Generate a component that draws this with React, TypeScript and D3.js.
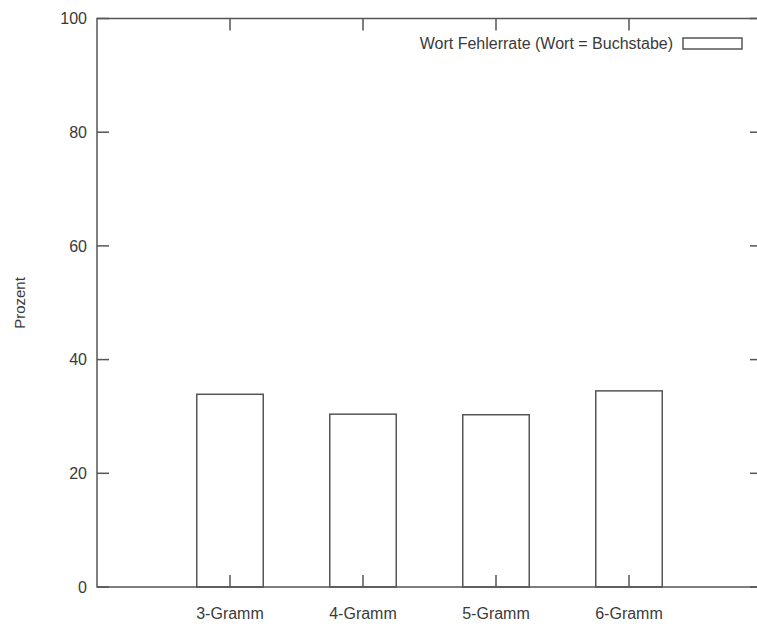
import * as d3 from "d3";

const categories = ["3-Gramm", "4-Gramm", "5-Gramm", "6-Gramm"];
const values = [33.9, 30.4, 30.3, 34.5];
const yTicks = [0, 20, 40, 60, 80, 100];
const seriesName = "Wort Fehlerrate (Wort = Buchstabe)";

export default function App() {
  const width = 757;
  const height = 626;
  const left = 97;
  const top = 18.5;
  const bottom = 587;
  const right = 762; // frame runs a bit past the window edge

  const x = d3.scaleLinear().domain([0, 5]).range([left, right]);
  const y = d3.scaleLinear().domain([0, 100]).range([bottom, top]);
  const barHalf = 0.5 * (x(1) - x(0)) / 2 * 1.0;

  const ink = "#555";
  const textInk = "#3a3a3a";
  const font = "'Liberation Sans', Arial, sans-serif";
  const tickLen = 12;

  return (
    <svg
      width={width}
      height={height}
      style={{ position: "absolute", left: 0, top: 0, background: "#fff" }}
      fontFamily={font}
      fontSize={16}
    >
      <rect width={width} height={height} fill="#fff" />
      {/* bars */}
      <g fill="none" stroke={ink} strokeWidth={1.5}>
        {values.map((v, i) => (
          <rect
            key={i}
            x={x(i + 1) - barHalf}
            y={y(v)}
            width={barHalf * 2}
            height={y(0) - y(v)}
          />
        ))}
      </g>
      {/* frame */}
      <rect
        x={left}
        y={top}
        width={right - left}
        height={bottom - top}
        fill="none"
        stroke={ink}
        strokeWidth={1.5}
      />
      {/* y ticks, both sides */}
      <g stroke={ink} strokeWidth={1.5}>
        {yTicks.map((t) => (
          <g key={t}>
            <line x1={left} x2={left + tickLen} y1={y(t)} y2={y(t)} />
            <line x1={right} x2={right - tickLen} y1={y(t)} y2={y(t)} />
          </g>
        ))}
        {categories.map((c, i) => (
          <g key={c}>
            <line x1={x(i + 1)} x2={x(i + 1)} y1={bottom} y2={bottom - tickLen} />
            <line x1={x(i + 1)} x2={x(i + 1)} y1={top} y2={top + tickLen} />
          </g>
        ))}
      </g>
      <g fill={textInk}>
        {yTicks.map((t) => (
          <text key={t} x={87} y={y(t)} dy="0.35em" textAnchor="end">
            {t}
          </text>
        ))}
        {categories.map((c, i) => (
          <text key={c} x={x(i + 1)} y={613} dy="0.35em" textAnchor="middle">
            {c}
          </text>
        ))}
        <text
          transform={`translate(25,303) rotate(-90)`}
          textAnchor="middle"
          fontSize={15}
        >
          Prozent
        </text>
        <text x={673} y={43.5} dy="0.35em" textAnchor="end">
          {seriesName}
        </text>
      </g>
      {/* legend swatch */}
      <rect x={683} y={38} width={59} height={11} fill="none" stroke={ink} strokeWidth={1.5} />
    </svg>
  );
}
